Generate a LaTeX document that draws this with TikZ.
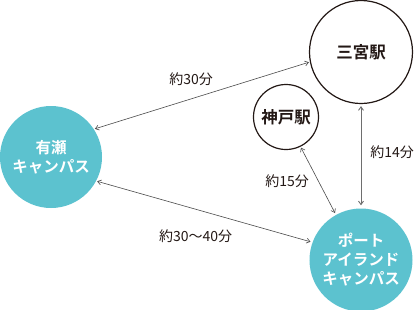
\documentclass[tikz,border=0pt]{standalone}
\usepackage{fontspec}
\setmainfont{Noto Sans CJK JP}[BoldFont={Noto Sans CJK JP Bold}]
\usepackage{xcolor}
\usepackage{tikz}
\usetikzlibrary{positioning,arrows.meta}
\definecolor{cturq}{HTML}{5CC2CF}
\definecolor{cnegro}{HTML}{231815}
\definecolor{cgris}{HTML}{4A4A4A}
\tikzset{
  campus/.style={circle, fill=cturq, draw=none, inner sep=0pt, minimum size=102bp,
    align=center, text=white, font=\fontsize{15.5bp}{19bp}\selectfont\bfseries},
  estacion/.style={circle, fill=white, draw=cnegro, line width=1.2bp, inner sep=0pt,
    align=center, text=cnegro, font=\fontsize{16.5bp}{19bp}\selectfont\bfseries},
  flecha/.style={{Straight Barb[length=3.5bp,width=5bp]}-{Straight Barb[length=3.5bp,width=5bp]},
    line width=0.6bp, draw=cgris},
  etq/.style={font=\fontsize{14bp}{16bp}\selectfont, text=cnegro, inner sep=0pt},
}
\begin{document}
\begin{tikzpicture}[x=1bp,y=-1bp]
  \useasboundingbox (0,0) rectangle (414,310);
  \node[campus] (ariake) at (51,157) {有瀬\\キャンパス};
  \node[estacion, minimum size=103bp] (sannomiya) at (361,52) {三宮駅};
  \node[estacion, minimum size=65bp] (kobe) at (286,117) {神戸駅};
  \node[campus, minimum size=103bp] (port) at (361,260) {ポート\\アイランド\\キャンパス};
  \draw[flecha, shorten <=1bp, shorten >=1bp] (ariake.33) -- (sannomiya.191)
    node[pos=0.45, above=13pt, etq]{約30分};
  \draw[flecha, shorten <=1bp, shorten >=2bp] (ariake.-28) -- (port.160)
    node[pos=0.46, below=20pt, etq]{約30〜40分};
  \draw[flecha, shorten <=1bp, shorten >=2bp] (kobe.-64) -- (port.119)
    node[pos=0.5, left=9pt, etq]{約15分};
  \draw[flecha, line width=0.9bp, draw=cgris!80, shorten <=2bp, shorten >=3bp]
    (sannomiya.-90) -- (port.90)
    node[pos=0.46, right=9pt, etq]{約14分};
\end{tikzpicture}
\end{document}
